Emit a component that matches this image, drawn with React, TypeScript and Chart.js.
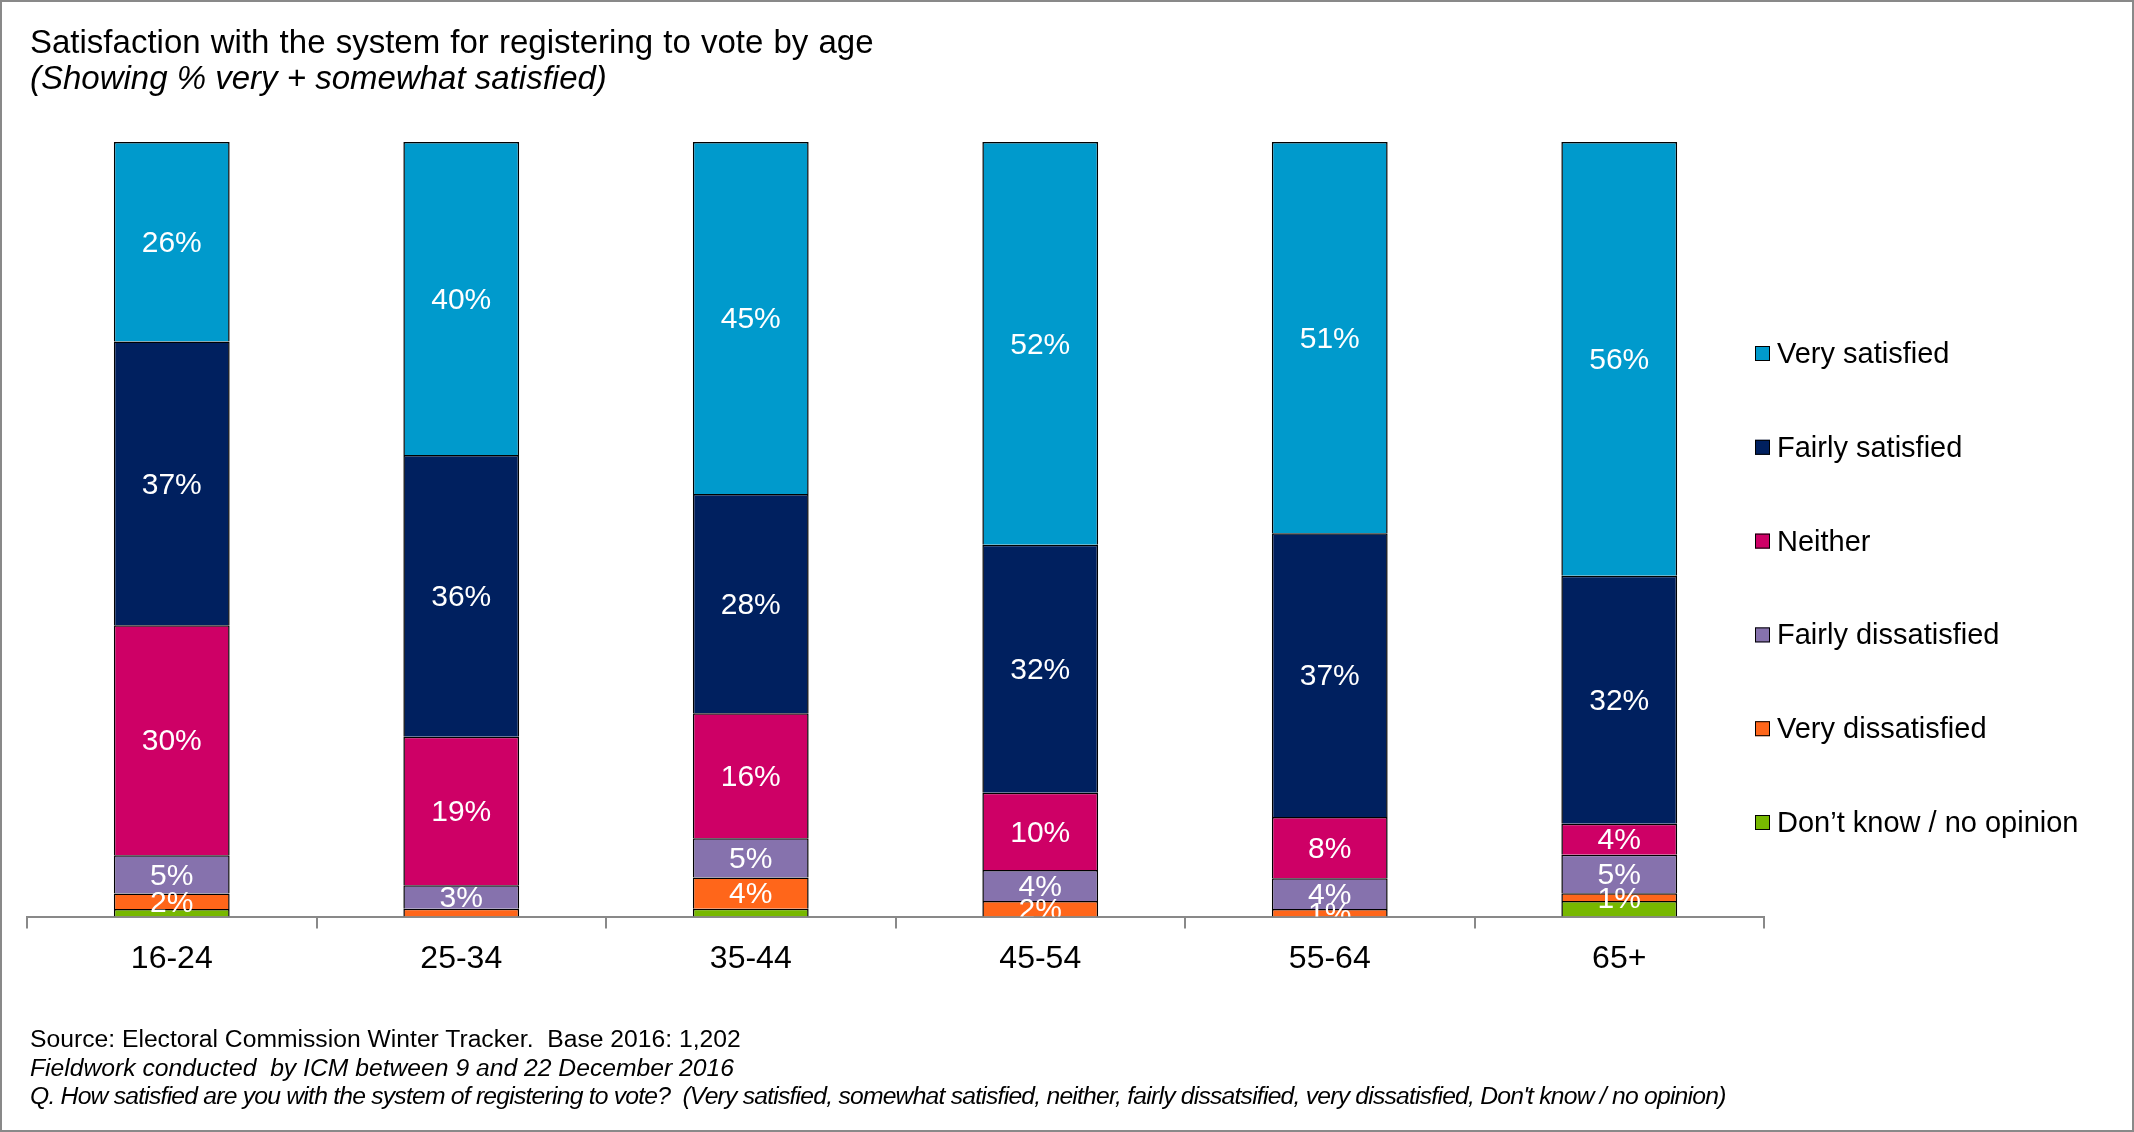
import React, { useEffect, useRef } from "react";
import { Chart, registerables } from "chart.js";

Chart.register(...registerables);

const categories = ["16-24", "25-34", "35-44", "45-54", "55-64", "65+"];
const seriesNames = [
  "Don\u2019t know / no opinion",
  "Very dissatisfied",
  "Fairly dissatisfied",
  "Neither",
  "Fairly satisfied",
  "Very satisfied",
];
const dontKnow = [1, 0, 1, 0, 0, 2];
const veryDissatisfied = [2, 1, 4, 2, 1, 1];
const fairlyDissatisfied = [5, 3, 5, 4, 4, 5];
const neither = [30, 19, 16, 10, 8, 4];
const fairlySatisfied = [37, 36, 28, 32, 37, 32];
const verySatisfied = [26, 40, 45, 52, 51, 56];
const seriesColors = ["#77B800", "#FF661A", "#8672AD", "#CE0066", "#00205F", "#009ACC"];
// series whose labels are not shown, and single unlabelled points
const unlabeledSeries = ["Don\u2019t know / no opinion"];
const unlabeledPoints = [["Very dissatisfied", "25-34"]];

const FONT = "'Liberation Sans', Arial, sans-serif";

const seriesValues = [dontKnow, veryDissatisfied, fairlyDissatisfied, neither, fairlySatisfied, verySatisfied];

export default function App() {
  const ref = useRef<HTMLCanvasElement | null>(null);

  useEffect(() => {
    document.body.style.margin = "0";
    const canvas = ref.current;
    if (!canvas) return;

    // 100% stacked: each bar normalised to its own total
    const totals = categories.map((_, ci) => seriesValues.reduce((s, arr) => s + arr[ci], 0));

    const datasets = seriesNames.map((name, si) => ({
      label: name,
      data: seriesValues[si].map((v, ci) => (v / totals[ci]) * 100),
      raw: seriesValues[si],
      backgroundColor: seriesColors[si],
      borderColor: "#000000",
      borderWidth: 1.5,
      categoryPercentage: 1,
      barPercentage: 0.4,
    }));

    const labelPlugin = {
      id: "segLabels",
      afterDatasetsDraw(chart: any) {
        const ctx = chart.ctx;
        const area = chart.chartArea;
        ctx.save();
        ctx.beginPath();
        ctx.rect(area.left, area.top, area.right - area.left, area.bottom - area.top);
        ctx.clip();
        ctx.fillStyle = "#ffffff";
        ctx.font = `30px ${FONT}`;
        ctx.textAlign = "center";
        ctx.textBaseline = "middle";
        chart.data.datasets.forEach((ds: any, si: number) => {
          if (unlabeledSeries.includes(ds.label)) return;
          const meta = chart.getDatasetMeta(si);
          meta.data.forEach((bar: any, ci: number) => {
            const v = ds.raw[ci];
            if (!v) return;
            if (unlabeledPoints.some((p) => p[0] === ds.label && p[1] === categories[ci])) return;
            const y = (bar.y + bar.base) / 2;
            ctx.fillText(`${v}%`, bar.x, y + 2);
          });
        });
        ctx.restore();
      },
    };

    const legendPlugin = {
      id: "sideLegend",
      afterDraw(chart: any) {
        const ctx = chart.ctx;
        const area = chart.chartArea;
        const items = chart.data.datasets.map((d: any) => d).reverse();
        ctx.save();
        ctx.font = `29px ${FONT}`;
        ctx.textAlign = "left";
        ctx.textBaseline = "alphabetic";
        items.forEach((ds: any, i: number) => {
          const mid = area.top + 211 + 93.8 * i;
          const sx = area.right - 9;
          ctx.fillStyle = ds.backgroundColor;
          ctx.fillRect(sx, mid - 7, 15, 15);
          ctx.strokeStyle = "#000";
          ctx.lineWidth = 1;
          ctx.strokeRect(sx + 0.5, mid - 6.5, 14, 14);
          ctx.fillStyle = "#000";
          ctx.fillText(ds.label, area.right + 13, mid + 10);
        });
        ctx.restore();
      },
    };

    const chart = new Chart(canvas, {
      type: "bar",
      data: { labels: categories, datasets: datasets as any },
      options: {
        responsive: false,
        animation: false,
        devicePixelRatio: 1,
        layout: { padding: { left: 27, right: 370, top: 142, bottom: 143 } },
        scales: {
          x: {
            stacked: true,
            grid: {
              display: true,
              drawOnChartArea: false,
              drawTicks: true,
              tickLength: 12,
              color: "#898989",
              lineWidth: 2,
              offset: true,
            },
            border: { display: true, color: "#898989", width: 2 },
            ticks: { color: "#000000", font: { family: FONT, size: 32 }, padding: 11 },
          },
          y: { stacked: true, display: false, min: 0, max: 100 },
        },
        plugins: { legend: { display: false }, tooltip: { enabled: false } },
      },
      plugins: [labelPlugin, legendPlugin],
    });
    return () => chart.destroy();
  }, []);

  const textBase: React.CSSProperties = {
    position: "absolute",
    left: 30,
    fontFamily: FONT,
    color: "#000",
    whiteSpace: "pre",
  };

  return (
    <div style={{ position: "fixed", left: 0, top: 0, width: 2134, height: 1132, background: "#fff", overflow: "hidden" }}>
      <canvas ref={ref} width={2134} height={1132} style={{ position: "absolute", left: 0, top: 0, width: 2134, height: 1132 }} />
      <div style={{ ...textBase, top: 24, fontSize: 33, lineHeight: "36px" }}>
        <div style={{ wordSpacing: 1 }}>Satisfaction with the system for registering to vote by age</div>
        <div style={{ fontStyle: "italic" }}>(Showing % very + somewhat satisfied)</div>
      </div>
      <div style={{ ...textBase, top: 1025, fontSize: 24.7, lineHeight: "28.5px" }}>
        <div>Source: Electoral Commission Winter Tracker.  Base 2016: 1,202</div>
        <div style={{ fontStyle: "italic" }}>Fieldwork conducted  by ICM between 9 and 22 December 2016</div>
        <div style={{ fontStyle: "italic", letterSpacing: -0.78 }}>
          Q. How satisfied are you with the system of registering to vote?  (Very satisfied, somewhat satisfied, neither, fairly dissatsified, very dissatisfied, Don't know / no opinion)
        </div>
      </div>
      <div style={{ position: "absolute", left: 0, top: 0, width: 2134, height: 1132, boxSizing: "border-box", border: "2px solid #898989", pointerEvents: "none" }} />
    </div>
  );
}
